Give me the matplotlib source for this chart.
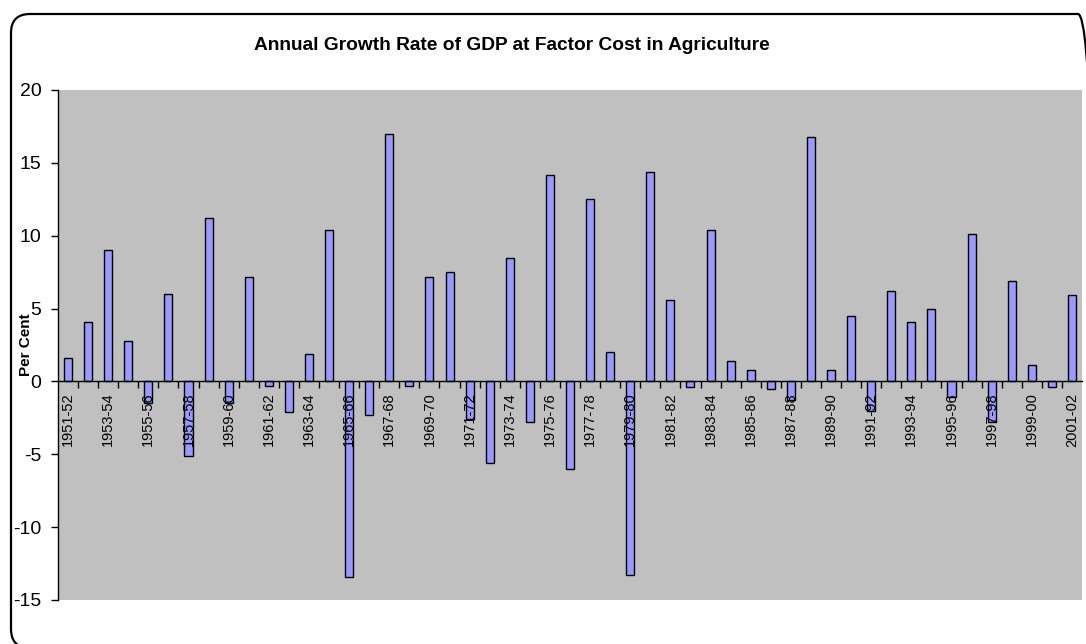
import numpy as np
import matplotlib
matplotlib.use("Agg")
import matplotlib.pyplot as plt
from matplotlib.patches import FancyBboxPatch
from matplotlib.transforms import IdentityTransform

plt.rcParams['font.family'] = ['Liberation Sans', 'DejaVu Sans']
plt.rcParams['axes.unicode_minus'] = False

# Agricultural GDP growth, per cent, 1951-52 .. 2001-02
years = ['%d-%02d' % (y, (y + 1) % 100) for y in range(1951, 2002)]
growth = [1.6, 4.1, 9.0, 2.8, -1.5, 6.0, -5.1, 11.2, -1.5, 7.2,
          -0.3, -2.1, 1.9, 10.4, -13.4, -2.3, 17.0, -0.3, 7.2, 7.5,
          -2.6, -5.6, 8.5, -2.8, 14.2, -6.0, 12.5, 2.0, -13.3, 14.4,
          5.6, -0.4, 10.4, 1.4, 0.8, -0.5, -1.3, 16.8, 0.8, 4.5,
          -2.0, 6.2, 4.1, 5.0, -1.1, 10.1, -2.8, 6.9, 1.1, -0.4,
          5.9]
title = 'Annual Growth Rate of GDP at Factor Cost in Agriculture'
ylab = 'Per Cent'

W, H = 1086, 644
fig = plt.figure(figsize=(W / 100, H / 100), dpi=100)

# rounded chart border in pixel units (runs off the right and bottom edge)
x0, y0, x1, y1 = 11, 14, 1097, 648
border = FancyBboxPatch((x0, H - y1), x1 - x0, y1 - y0,
                        boxstyle='round,pad=0,rounding_size=19',
                        transform=IdentityTransform(), fill=False,
                        edgecolor='black', linewidth=1.6, clip_on=False)
fig.patches.append(border)

left, right, top, bottom = 58, 1082, 90, 600
ax = fig.add_axes([left / W, 1 - bottom / H, (right - left) / W, (bottom - top) / H])
ax.set_facecolor('#C0C0C0')

x = np.arange(len(growth))
ax.bar(x, growth, width=0.4, color='#9999FF', edgecolor='black', linewidth=1.0)

ax.set_xlim(-0.5, len(growth) - 0.5)
ax.set_ylim(-15, 20)
ax.set_yticks(np.arange(-15, 21, 5))
ax.tick_params(axis='y', length=5, width=1, labelsize=14, pad=7)

for s in ('top', 'right'):
    ax.spines[s].set_visible(False)
ax.spines['left'].set_linewidth(1.0)
ax.spines['bottom'].set_position(('data', 0))
ax.spines['bottom'].set_linewidth(1.0)

# tick marks at category boundaries, labels on every other bar
ax.set_xticks(np.arange(0.5, len(growth) - 0.5, 1.0))
ax.set_xticklabels([])
ax.tick_params(axis='x', which='major', length=5, width=1, direction='out')
ax.set_xticks(x[::2], minor=True)
ax.set_xticklabels(years[::2], minor=True, rotation=90, fontsize=10.5)
ax.tick_params(axis='x', which='minor', length=0, pad=8)

fig.text(512 / W, 1 - 46 / H, title, ha='center', va='center',
         fontsize=13.8, fontweight='bold')
fig.text(26 / W, 1 - 345 / H, ylab, ha='center', va='center',
         rotation=90, fontsize=11, fontweight='bold')

fig.savefig('out.png', dpi=100)
